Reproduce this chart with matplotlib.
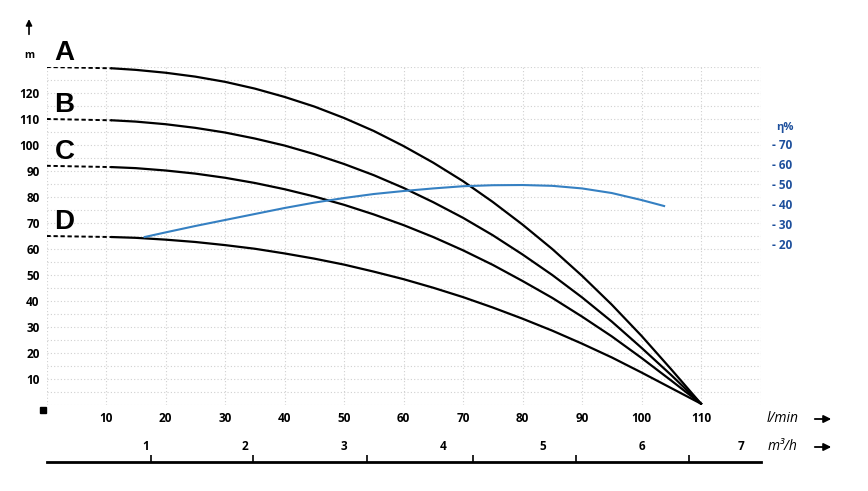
import numpy as np
import matplotlib.pyplot as plt

plt.rcParams['font.family'] = ['Open Sans', 'DejaVu Sans']

# flow l/min (solid part of the curves)
q = [11, 15, 20, 25, 30, 35, 40, 45, 50, 55, 60, 65, 70, 75, 80, 85, 90, 95, 100, 105, 110]
head_a = [129.5, 128.9, 127.8, 126.3, 124.3, 121.7, 118.5, 114.8, 110.4, 105.4, 99.6,
          93.2, 86.1, 78.1, 69.4, 60.0, 49.7, 38.6, 26.6, 13.7, 0.5]
head_b = [109.5, 109.0, 108.0, 106.6, 104.8, 102.5, 99.8, 96.5, 92.7, 88.4, 83.5,
          78.0, 72.0, 65.3, 57.9, 50.0, 41.4, 32.1, 22.0, 11.5, 0.5]
head_c = [91.5, 91.1, 90.2, 89.0, 87.4, 85.4, 83.0, 80.2, 77.0, 73.3, 69.2,
          64.6, 59.5, 53.9, 47.7, 41.2, 34.0, 26.4, 18.1, 9.4, 0.5]
head_d = [64.6, 64.3, 63.6, 62.7, 61.5, 60.1, 58.3, 56.3, 54.0, 51.3, 48.4,
          45.1, 41.5, 37.5, 33.2, 28.6, 23.6, 18.3, 12.5, 6.5, 0.5]
curves = {'A': head_a, 'B': head_b, 'C': head_c, 'D': head_d}
shutoff = {'A': 130, 'B': 110, 'C': 92, 'D': 65}

# efficiency %
eff_q = [16.5, 20, 25, 30, 35, 40, 45, 50, 55, 60, 65, 70, 75, 80, 85, 90, 95, 100, 103.8]
eff = [23.5, 25.8, 29.0, 32.0, 35.0, 38.0, 40.7, 43.0, 45.0, 46.5, 47.8, 48.9, 49.4,
       49.5, 49.1, 47.8, 45.5, 42.0, 39.0]

x_ticks = [10, 20, 30, 40, 50, 60, 70, 80, 90, 100, 110]
y_ticks = [10, 20, 30, 40, 50, 60, 70, 80, 90, 100, 110, 120]
eff_ticks = [20, 30, 40, 50, 60, 70]
m3h_labels = [1, 2, 3, 4, 5, 6, 7]
m3h_marks = [17.6, 34.7, 53.9, 71.7, 89.0, 108.0]

W, H = 868, 491
fig = plt.figure(figsize=(W / 100, H / 100), dpi=100)
ax = fig.add_axes([46.5 / W, 86 / H, 714 / W, 338 / H])
ax.set_xlim(0, 120)
ax.set_ylim(0, 130)
for s in ax.spines.values():
    s.set_visible(False)

ax.set_xticks(x_ticks)
ax.set_xticks(np.arange(0, 121, 10), minor=True)
ax.set_yticks(y_ticks)
ax.set_yticks(np.arange(0, 131, 5), minor=True)
ax.grid(which='both', color='#d0d0d0', lw=0.8, ls=(0, (1, 2)))
ax.tick_params(which='both', length=0)
ax.tick_params(axis='x', pad=5, labelsize=8.5)
ax.tick_params(axis='y', pad=5, labelsize=8.5)
for lab in ax.get_xticklabels() + ax.get_yticklabels():
    lab.set_fontweight('bold')

for name, h in curves.items():
    ax.plot([0, q[0]], [shutoff[name], h[0]], color='black', lw=1.4, ls=(0, (2.2, 1.4)))
    ax.plot(q, h, color='black', lw=1.6)
    ax.annotate(name, xy=(0, shutoff[name]), xytext=(13, 10), textcoords='offset points',
                ha='center', va='center', fontsize=20, fontweight='bold',
                family='Liberation Sans')

# efficiency on twin axis
ax2 = ax.twinx()
ax2.set_ylim((0 - 46.54) / 0.769, (130 - 46.54) / 0.769)
for s in ax2.spines.values():
    s.set_visible(False)
ax2.plot(eff_q, eff, color='#3580c2', lw=1.5)
ax2.set_yticks(eff_ticks)
ax2.set_yticklabels([f'- {t}' for t in eff_ticks], fontweight='bold')
ax2.tick_params(axis='y', length=0, pad=8, labelsize=8.5, labelcolor='#1d4f9c')
ax2.text(1.034, 78.5, 'η%', transform=ax2.get_yaxis_transform(), ha='center', va='center',
         fontsize=8, fontweight='bold', color='#1d4f9c')

# y axis unit and arrow
ax.text(-0.0245, 134.6, 'm', transform=ax.get_yaxis_transform(), ha='center', va='center',
        fontsize=7.5, fontweight='bold')
ax.annotate('', xy=(-0.0245, 149.5), xytext=(-0.0245, 141.5), xycoords=ax.get_yaxis_transform(),
            arrowprops=dict(arrowstyle='-|>', color='black', lw=1.2, mutation_scale=9))
ax.plot(-0.005, -0.014, marker='s', ms=5, color='black', transform=ax.transAxes, clip_on=False)

# m3/h scale
ax3 = fig.add_axes([46.5 / W, 29.3 / H, 714 / W, 30 / H])
ax3.set_xlim(0, 120)
ax3.set_ylim(0, 30)
for k, s in ax3.spines.items():
    s.set_visible(k == 'bottom')
ax3.spines['bottom'].set_linewidth(2)
ax3.set_yticks([])
ax3.set_xticks(m3h_marks)
ax3.set_xticklabels([])
ax3.tick_params(axis='x', direction='in', length=5, width=1.2)
ax3.patch.set_alpha(0)
for v in m3h_labels:
    ax3.text(v * 1000 / 60, 14.7, str(v), ha='center', va='center', fontsize=8.5, fontweight='bold')

# unit labels with arrows
fig.text(783 / W, 1 - 419 / H, 'l/min', ha='center', va='center', fontsize=10, style='italic')
fig.text(783 / W, 1 - 447 / H, 'm³/h', ha='center', va='center', fontsize=10, style='italic')
for yy in (419, 447):
    fig.add_artist(plt.matplotlib.patches.FancyArrowPatch(
        (812 / W, 1 - yy / H), (834 / W, 1 - yy / H), transform=fig.transFigure,
        arrowstyle='-|>', mutation_scale=11, color='black', lw=1.3))

fig.savefig('out.png', dpi=100)
